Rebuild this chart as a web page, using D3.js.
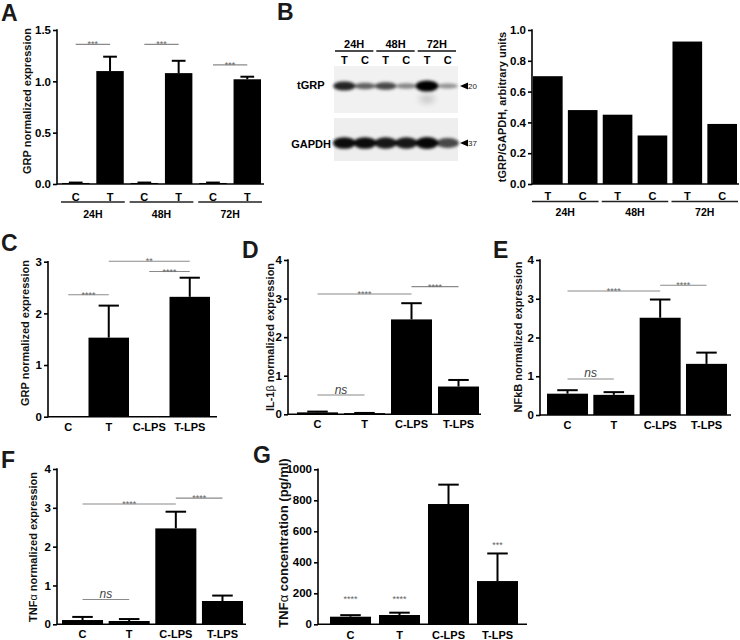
<!DOCTYPE html>
<html><head><meta charset="utf-8">
<script src="https://cdn.jsdelivr.net/npm/d3@7"></script>
<style>body{margin:0;background:#fff} svg text{font-family:"Liberation Sans",Arial,Helvetica,sans-serif}</style>
</head><body><svg id="c" width="740" height="640"></svg>
<script>
// ---------- DATA ----------
// Panel A
const aCats = ["C","T","C","T","C","T"];
const aGroups = ["24H","48H","72H"];
const aValues = [0.01,1.10,0.01,1.08,0.01,1.02];
const aErrors = [0.004,0.14,0.004,0.12,0.004,0.025];
const aTicks = [0,0.5,1.0,1.5];
const aSig = [[0,1,1.36,"***"],[2,3,1.36,"***"],[4,5,1.16,"***"]];
// Panel B (blot + quantification)
const blotGroups = ["24H","48H","72H"];
const blotLanes = ["T","C","T","C","T","C"];
const tgrpIntensity = [0.85,0.6,0.7,0.45,1.0,0.4];
const gapdhIntensity = [0.95,0.95,0.9,0.9,0.97,0.7];
const blotMarkers = ["20","37"];
const bCats = ["T","C","T","C","T","C"];
const bGroups = ["24H","48H","72H"];
const bValues = [0.70,0.48,0.45,0.315,0.925,0.39];
const bTicks = [0,0.2,0.4,0.6,0.8,1.0];
// Panels C-G
const lpsCats = ["C","T","C-LPS","T-LPS"];
const cValues = [0,1.53,0,2.32];
const cErrors = [0,0.62,0,0.37];
const cTicks = [0,1,2,3];
const cSig = [[0,1,2.36,"****"],[1,3,3.01,"**"],[2,3,2.81,"****"]];
const dValues = [0.05,0.03,2.46,0.72];
const dErrors = [0.02,0.005,0.42,0.17];
const dTicks = [0,1,2,3,4];
const dSig = [[0,1,0.5,"ns"],[0,2,3.12,"****"],[2,3,3.31,"****"]];
const eValues = [0.55,0.52,2.51,1.32];
const eErrors = [0.09,0.07,0.47,0.29];
const eTicks = [0,1,2,3,4];
const eSig = [[0,1,0.93,"ns"],[0,2,3.2,"****"],[2,3,3.35,"****"]];
const fValues = [0.11,0.085,2.47,0.60];
const fErrors = [0.08,0.05,0.43,0.14];
const fTicks = [0,1,2,3,4];
const fSig = [[0,1,0.64,"ns"],[0,2,3.1,"****"],[2,3,3.25,"****"]];
const gValues = [49,60,776,279];
const gErrors = [10,15,125,178];
const gTicks = [0,200,400,600,800,1000];
const gStars = [[0,163,"****"],[1,163,"****"],[3,512,"***"]];

// ---------- DRAWING ----------
const svg = d3.select("#c");

function letter(t, x, y) {
  svg.append("text").attr("x", x).attr("y", y).text(t)
    .attr("font-size", 23).attr("font-weight", "bold").attr("fill", "#1a1a1a");
}

function ylabel(parts, cx, cy, size) {
  const t = svg.append("text").attr("transform", `translate(${cx},${cy}) rotate(-90)`)
    .attr("text-anchor", "middle").attr("dy", "0.35em")
    .attr("font-size", size).attr("font-weight", "bold").attr("fill", "#111");
  parts.forEach(p => {
    t.append("tspan").text(p[0]).attr("font-weight", p[1] ? "normal" : "bold");
  });
}

function barPanel(p) {
  const g = svg.append("g");
  const idx = p.values.map((_, i) => i);
  const x = d3.scaleBand().domain(idx).range([p.barL, p.barR]).paddingInner(p.pi).paddingOuter(0);
  const y = d3.scaleLinear().domain([0, p.max]).range([p.y0, p.yTop]);
  const bw = x.bandwidth();
  g.selectAll("rect.bar").data(idx).join("rect").attr("class", "bar")
    .attr("x", i => x(i)).attr("width", bw)
    .attr("y", i => y(p.values[i])).attr("height", i => Math.max(0, y(0) - y(p.values[i])))
    .attr("fill", "#000");
  if (p.errors) {
    const eb = idx.filter(i => p.values[i] > 0 && p.errors[i] > 0);
    g.selectAll("line.err").data(eb).join("line").attr("class", "err")
      .attr("x1", i => x(i) + bw / 2).attr("x2", i => x(i) + bw / 2)
      .attr("y1", i => y(p.values[i])).attr("y2", i => y(p.values[i] + p.errors[i]))
      .attr("stroke", "#000").attr("stroke-width", 2);
    g.selectAll("line.cap").data(eb).join("line").attr("class", "cap")
      .attr("x1", i => x(i) + bw * 0.25).attr("x2", i => x(i) + bw * 0.75)
      .attr("y1", i => y(p.values[i] + p.errors[i])).attr("y2", i => y(p.values[i] + p.errors[i]))
      .attr("stroke", "#000").attr("stroke-width", 2);
  }
  // y axis
  const ax = d3.axisLeft(y).tickValues(p.ticks).tickFormat(p.fmt).tickSize(4).tickPadding(2);
  const ag = g.append("g").attr("transform", `translate(${p.axisX},0)`).call(ax);
  ag.select(".domain").remove();
  ag.selectAll(".tick line").attr("stroke", "#000").attr("stroke-width", 1.6);
  ag.selectAll(".tick text").attr("font-size", 11.5).attr("font-weight", "bold").attr("fill", "#000")
    .style("font-family", '"Liberation Sans",Arial,sans-serif');
  g.append("line").attr("x1", p.axisX).attr("x2", p.axisX).attr("y1", p.y0 + 0.8).attr("y2", p.yTop - 0.8)
    .attr("stroke", "#000").attr("stroke-width", 1.6);
  g.append("line").attr("x1", p.axisX).attr("x2", p.axisEnd).attr("y1", p.y0).attr("y2", p.y0)
    .attr("stroke", "#000").attr("stroke-width", 1.6);
  // x labels
  g.selectAll("text.xl").data(idx).join("text").attr("class", "xl")
    .attr("x", i => x(i) + bw / 2).attr("y", p.y0 + p.labDy).attr("text-anchor", "middle")
    .attr("font-size", 11).attr("font-weight", "bold").text(i => p.cats[i]);
  // groups
  if (p.groups) {
    p.groups.forEach((gname, k) => {
      const a = x(2 * k) - 1, b = x(2 * k + 1) + bw + 1;
      g.append("line").attr("x1", a).attr("x2", b).attr("y1", p.y0 + p.grpLineDy).attr("y2", p.y0 + p.grpLineDy)
        .attr("stroke", "#222").attr("stroke-width", 1.5);
      g.append("text").attr("x", (a + b) / 2).attr("y", p.y0 + p.grpLabDy).attr("text-anchor", "middle")
        .attr("font-size", 10.5).attr("font-weight", "bold").text(gname);
    });
  }
  // significance lines
  if (p.sig) {
    p.sig.forEach(s => {
      const x1 = x(s[0]) + bw / 2, x2 = x(s[1]) + bw / 2, yy = y(s[2]);
      g.append("line").attr("x1", x1).attr("x2", x2).attr("y1", yy).attr("y2", yy)
        .attr("stroke", "#8a8a8a").attr("stroke-width", 1.1);
      if (s[3] === "ns") {
        g.append("text").attr("x", (x1 + x2) / 2).attr("y", yy - 1.5).attr("text-anchor", "middle")
          .attr("font-size", 12).attr("font-style", "italic").attr("fill", "#444").text("ns");
      } else {
        g.append("text").attr("x", (x1 + x2) / 2).attr("y", yy + 3).attr("text-anchor", "middle")
          .attr("font-size", 9).attr("fill", "#666").text(s[3]);
      }
    });
  }
  if (p.stars) {
    p.stars.forEach(s => {
      g.append("text").attr("x", x(s[0]) + bw / 2).attr("y", y(s[1]) + 3).attr("text-anchor", "middle")
        .attr("font-size", 9).attr("fill", "#666").text(s[2]);
    });
  }
  return { x, y };
}

// Panel A
letter("A", 1, 21);
barPanel({ values: aValues, errors: aErrors, cats: aCats, groups: aGroups, sig: aSig,
  barL: 62, barR: 261, pi: 0.2, max: 1.5, y0: 184, yTop: 30, axisX: 57, axisEnd: 264,
  ticks: aTicks, fmt: d3.format(".1f"), labDy: 17, grpLineDy: 18, grpLabDy: 34 });
ylabel([["GRP normalized expression", false]], 27, 101, 11);

// Panel B blot
letter("B", 277, 20);
(function () {
  const g = svg.append("g");
  const defs = svg.append("defs");
  defs.append("filter").attr("id", "blur").attr("x", "-50%").attr("y", "-100%").attr("width", "200%").attr("height", "300%")
    .append("feGaussianBlur").attr("stdDeviation", 1.6);
  defs.append("filter").attr("id", "blur2").attr("x", "-50%").attr("y", "-100%").attr("width", "200%").attr("height", "300%")
    .append("feGaussianBlur").attr("stdDeviation", 3);
  const lx = d3.scaleBand().domain(d3.range(blotLanes.length)).range([334, 458]);
  const bw = lx.bandwidth();
  g.append("rect").attr("x", 334).attr("y", 66).attr("width", 124).attr("height", 47).attr("fill", "#f1f1f1");
  g.append("rect").attr("x", 334).attr("y", 118).attr("width", 124).attr("height", 43).attr("fill", "#eeeeee");
  const bandG = g.append("g").attr("filter", "url(#blur)");
  blotLanes.forEach((l, i) => {
    const cx = lx(i) + bw / 2, v = tgrpIntensity[i];
    bandG.append("ellipse").attr("cx", cx).attr("cy", 86).attr("rx", 9.5 + 2 * v).attr("ry", 2 + 3.5 * v * v)
      .attr("fill", "#000").attr("opacity", v);
  });
  g.append("ellipse").attr("cx", lx(4) + bw / 2).attr("cy", 99).attr("rx", 8).attr("ry", 4)
    .attr("fill", "#000").attr("opacity", 0.18).attr("filter", "url(#blur2)");
  const gG = g.append("g").attr("filter", "url(#blur)");
  blotLanes.forEach((l, i) => {
    const cx = lx(i) + bw / 2, v = gapdhIntensity[i];
    gG.append("ellipse").attr("cx", cx).attr("cy", 143).attr("rx", 11.5).attr("ry", 3 + 3 * v)
      .attr("fill", "#000").attr("opacity", v);
  });
  blotLanes.forEach((l, i) => {
    g.append("text").attr("x", lx(i) + bw / 2).attr("y", 64).attr("text-anchor", "middle")
      .attr("font-size", 11).attr("font-weight", "bold").text(l);
  });
  blotGroups.forEach((gn, k) => {
    const a = lx(2 * k) + 1, b = lx(2 * k + 1) + bw - 2;
    g.append("line").attr("x1", a).attr("x2", b).attr("y1", 51).attr("y2", 51).attr("stroke", "#111").attr("stroke-width", 1.5);
    g.append("text").attr("x", (a + b) / 2).attr("y", 48).attr("text-anchor", "middle")
      .attr("font-size", 11).attr("font-weight", "bold").text(gn);
  });
  g.append("text").attr("x", 297).attr("y", 89).attr("font-size", 11).attr("font-weight", "bold").text("tGRP");
  g.append("text").attr("x", 331).attr("y", 148).attr("text-anchor", "end").attr("font-size", 11).attr("font-weight", "bold").text("GAPDH");
  [[86, blotMarkers[0]], [143, blotMarkers[1]]].forEach(m => {
    g.append("path").attr("d", `M460,${m[0]}L468,${m[0] - 3.5}L468,${m[0] + 3.5}Z`).attr("fill", "#000");
    g.append("text").attr("x", 468).attr("y", m[0] + 3).attr("font-size", 8).attr("fill", "#222").text(m[1]);
  });
})();

// Panel B chart
barPanel({ values: bValues, cats: bCats, groups: bGroups,
  barL: 533, barR: 737, pi: 0.15, max: 1.0, y0: 184, yTop: 30, axisX: 532, axisEnd: 739,
  ticks: bTicks, fmt: d3.format(".1f"), labDy: 16, grpLineDy: 17.5, grpLabDy: 32 });
ylabel([["tGRP/GAPDH, arbitrary units", false]], 502, 107, 11);

// Panel C
letter("C", 1, 251);
barPanel({ values: cValues, errors: cErrors, cats: lpsCats, sig: cSig,
  barL: 48, barR: 210, pi: 0.0, max: 3, y0: 416.7, yTop: 261.7, axisX: 48, axisEnd: 217,
  ticks: cTicks, fmt: d3.format("d"), labDy: 14 });
ylabel([["GRP normalized expression", false]], 25, 333, 11);

// Panel D
letter("D", 242, 258);
barPanel({ values: dValues, errors: dErrors, cats: lpsCats, sig: dSig,
  barL: 297, barR: 479, pi: 0.128, max: 4, y0: 414.3, yTop: 260, axisX: 288, axisEnd: 481,
  ticks: dTicks, fmt: d3.format("d"), labDy: 14 });
ylabel([["IL-1", false], ["β", true], [" normalized expression", false]], 270, 337, 11);

// Panel E
letter("E", 493, 258);
barPanel({ values: eValues, errors: eErrors, cats: lpsCats, sig: eSig,
  barL: 547, barR: 727, pi: 0.115, max: 4, y0: 415, yTop: 260, axisX: 540, axisEnd: 731,
  ticks: eTicks, fmt: d3.format("d"), labDy: 14 });
ylabel([["NFkB normalized expression", false]], 518, 337, 11);

// Panel F
letter("F", 1, 468);
barPanel({ values: fValues, errors: fErrors, cats: lpsCats, sig: fSig,
  barL: 62, barR: 243, pi: 0.12, max: 4, y0: 624.3, yTop: 469, axisX: 57, axisEnd: 246,
  ticks: fTicks, fmt: d3.format("d"), labDy: 14 });
ylabel([["TNF", false], ["α", true], [" normalized expression", false]], 33, 547, 11);

// Panel G
letter("G", 253, 463);
barPanel({ values: gValues, errors: gErrors, cats: lpsCats, stars: gStars,
  barL: 330, barR: 518, pi: 0.163, max: 1000, y0: 624.3, yTop: 469.3, axisX: 318, axisEnd: 527,
  ticks: gTicks, fmt: d3.format("d"), labDy: 14.5 });
ylabel([["TNF", false], ["α", true], [" concentration (pg/ml)", false]], 283, 543, 13);
</script></body></html>
